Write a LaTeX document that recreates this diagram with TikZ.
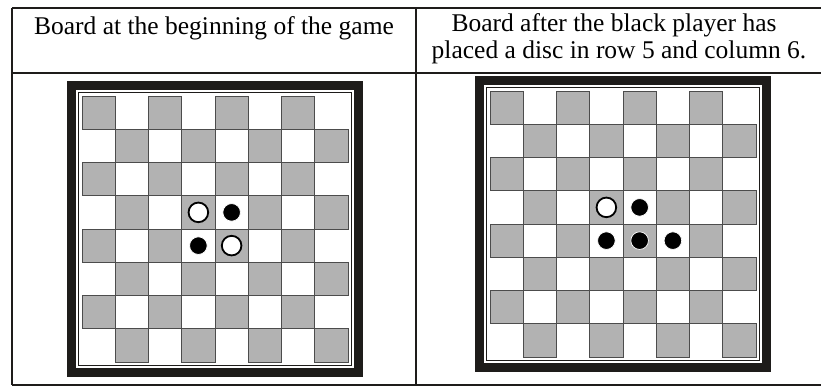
\documentclass[tikz,border=0pt]{standalone}
\usepackage{fontspec}
\setmainfont{Liberation Serif}
\usetikzlibrary{positioning}
\definecolor{cellgray}{HTML}{B2B2B2}
\definecolor{ink}{HTML}{1E1C1A}

% one 8x8 board, centred at (#1,#2); y grows downwards
\newcommand{\drawboard}[2]{%
  \begin{scope}[shift={(#1,#2)}]
    \fill[ink] (-148,-148) rectangle (148,148);
    \fill[white] (-139,-139) rectangle (139,139);
    \draw[ink, line width=1.1pt] (-136.5,-136.5) rectangle (136.5,136.5);
    \foreach \r in {1,...,8}{
      \foreach \c in {1,...,8}{
        \pgfmathtruncatemacro{\odd}{mod(\r+\c,2)}
        \ifnum\odd=0
          \draw[cell] ({-133+(\c-1)*\cs},{-133+(\r-1)*\cs}) rectangle ++(\cs,\cs);
        \fi
      }
    }
  \end{scope}}
% disc on row #3, column #4 of the board centred at (#1,#2)
\newcommand{\disc}[5]{%
  \draw[#5] ({#1-133+(#4-0.5)*\cs},{#2-133+(#3-0.5)*\cs}) circle;}

\begin{document}
\begin{tikzpicture}[
    x=1pt, y={(0pt,-1pt)},
    cell/.style={fill=cellgray, draw=black!70, line width=0.9pt},
    rule/.style={ink, line width=1.1pt},
    blackdisc/.style={fill=black, draw=white, line width=0.7pt, radius=8.8},
    whitedisc/.style={fill=white, draw=black, line width=1.8pt, radius=9.8},
    header/.style={font=\fontsize{25.5}{28}\selectfont, inner sep=0pt, anchor=base}
  ]
  \def\cs{33.25}
  \useasboundingbox (0,0) rectangle (821,389);

  % Table
  \draw[rule] (12,8) -- (821,8);
  \draw[rule] (12,73) -- (821,73);
  \draw[rule] (12,385) -- (821,385);
  \draw[rule] (12,8) -- (12,385);
  \draw[rule] (416,8) -- (416,385);

  % Headers
  \node[header] (lefthead) at (214,34) {Board at the beginning of the game};
  \node[header] (righthead) at (614,31) {Board after the black player has};
  \node[header] (rightheadb) at (619,58) {placed a disc in row 5 and column 6.};

  % Board at the start
  \drawboard{215}{229}
  \disc{215}{229}{4}{4}{whitedisc}
  \disc{215}{229}{4}{5}{blackdisc}
  \disc{215}{229}{5}{4}{blackdisc}
  \disc{215}{229}{5}{5}{whitedisc}

  % Board after the move
  \drawboard{623}{224}
  \disc{623}{224}{4}{4}{whitedisc}
  \disc{623}{224}{4}{5}{blackdisc}
  \disc{623}{224}{5}{4}{blackdisc}
  \disc{623}{224}{5}{5}{blackdisc}
  \disc{623}{224}{5}{6}{blackdisc}
\end{tikzpicture}
\end{document}
